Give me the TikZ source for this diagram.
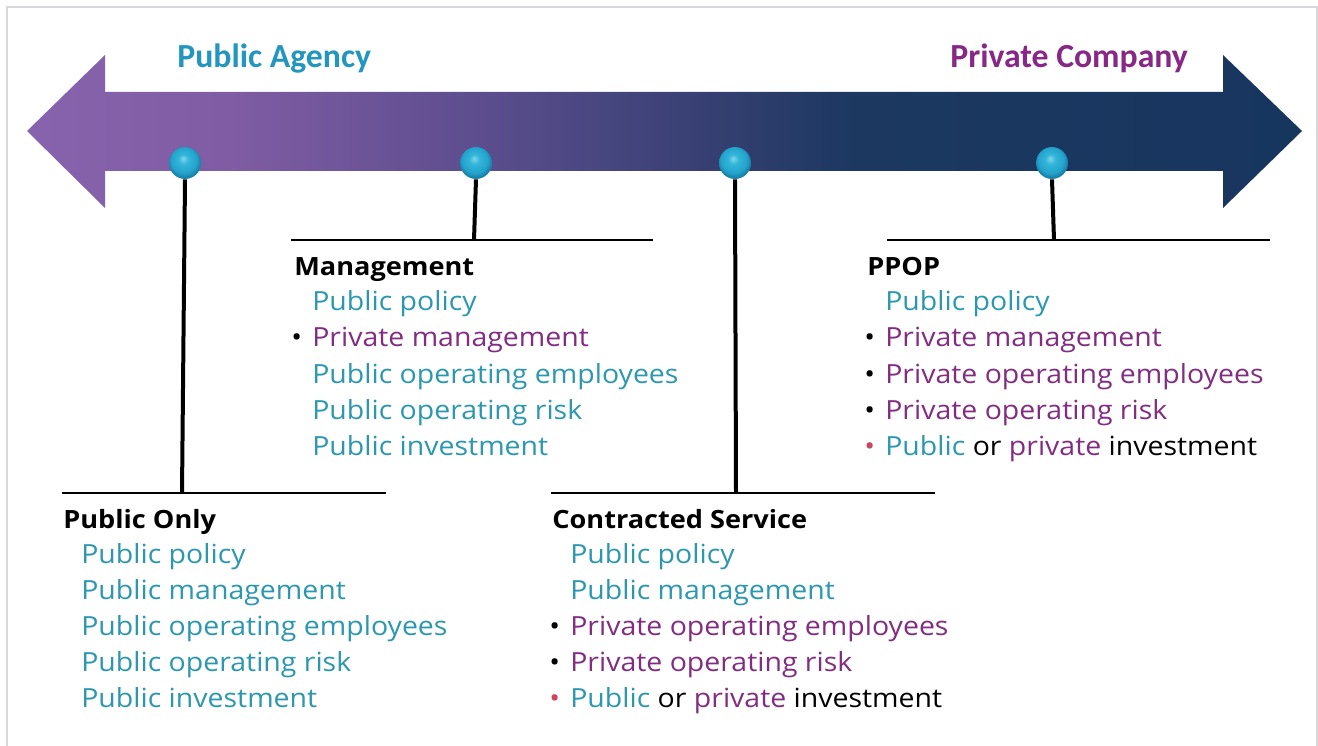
\documentclass[tikz,border=0pt]{standalone}
\usepackage{fontspec}
\setmainfont{Open Sans}
\newfontfamily\bodyfont{Open Sans}[FakeStretch=1.08]
\newfontfamily\titlefont{Carlito}
\usetikzlibrary{calc}

\definecolor{pubteal}{RGB}{43,152,176}
\definecolor{prvpurple}{RGB}{130,45,130}
\definecolor{titleteal}{RGB}{35,150,190}
\definecolor{titlepurple}{RGB}{135,40,135}
\definecolor{bulred}{RGB}{205,70,95}
\definecolor{framegray}{RGB}{215,215,220}

% colour run of the timeline arrow, purple on the left to navy on the right
\pgfdeclarehorizontalshading{timeline}{100bp}{%
  rgb(0bp)=(0.53,0.39,0.68);
  rgb(25bp)=(0.53,0.39,0.68);
  rgb(33bp)=(0.50,0.36,0.64);
  rgb(43.5bp)=(0.35,0.30,0.55);
  rgb(51.4bp)=(0.22,0.25,0.45);
  rgb(57.3bp)=(0.11,0.22,0.38);
  rgb(75bp)=(0.09,0.21,0.37);
  rgb(100bp)=(0.09,0.21,0.37)}

% glossy marker pin
\pgfdeclareradialshading{pinball}{\pgfpoint{-3bp}{7bp}}{%
  rgb(0bp)=(0.50,0.84,0.93);
  rgb(8bp)=(0.20,0.71,0.85);
  rgb(20bp)=(0.14,0.64,0.80);
  rgb(25bp)=(0.10,0.52,0.68);
  rgb(50bp)=(0.10,0.52,0.68)}

\newcommand\pubtxt[1]{\textcolor{pubteal}{#1}}
\newcommand\prvtxt[1]{\textcolor{prvpurple}{#1}}

\begin{document}
\begin{tikzpicture}[x=0.02cm,y=-0.02cm,
  pinmark/.style={circle,minimum size=32*0.02cm,inner sep=0pt,shading=pinball},
  stem/.style={line width=0.08cm,black},
  baseline rule/.style={line width=0.032cm,black},
  heading/.style={anchor=base west,inner sep=0pt,font=\bodyfont\bfseries\fontsize{14.3}{16}\selectfont},
  item/.style={anchor=base west,inner sep=0pt,font=\bodyfont\fontsize{15}{17}\selectfont},
  bul/.style={anchor=base east,inner sep=0pt,xshift=-0.19cm,font=\bodyfont\fontsize{15}{17}\selectfont},
  title/.style={anchor=base west,inner sep=0pt,font=\titlefont\bfseries\fontsize{19.2}{22}\selectfont}]

\useasboundingbox (0,0) rectangle (1318,746);
\fill[white] (0,0) rectangle (1318,746);
% page frame
\draw[framegray,line width=0.03cm] (7,760) -- (7,7) -- (1317,7) -- (1317,760);

% double-headed timeline arrow
\path[shading=timeline]
  (27,131) -- (105,55) -- (105,92) -- (1223,92) -- (1223,55) -- (1302,131)
  -- (1223,208) -- (1223,171) -- (105,171) -- (105,208) -- cycle;

% end labels
\node[title,text=titleteal] (tpub) at (177,68) {Public Agency};
\node[title,text=titlepurple] (tprv) at (950,68) {Private Company};

% pins on the timeline
\node[pinmark] (p1) at (185,163) {};
\node[pinmark] (p2) at (476,163) {};
\node[pinmark] (p3) at (735,163) {};
\node[pinmark] (p4) at (1052,163) {};

% rules under each pin
\coordinate (r1a) at (62,493);  \coordinate (r1b) at (386,493);
\coordinate (r2a) at (291,240); \coordinate (r2b) at (653,240);
\coordinate (r3a) at (551,493); \coordinate (r3b) at (935,493);
\coordinate (r4a) at (887,240); \coordinate (r4b) at (1270,240);
\coordinate (s1) at (182,493);
\coordinate (s2) at (474,240);
\coordinate (s3) at (736,493);
\coordinate (s4) at (1054,240);

\draw[baseline rule] (r1a) -- (r1b);
\draw[baseline rule] (r2a) -- (r2b);
\draw[baseline rule] (r3a) -- (r3b);
\draw[baseline rule] (r4a) -- (r4b);

\draw[stem] (p1.south) -- (s1);
\draw[stem] (p2.south) -- (s2);
\draw[stem] (p3.south) -- (s3);
\draw[stem] (p4.south) -- (s4);

% Public Only
\node[heading] (h1) at (63,528) {Public Only};
\node[item] (a1) at (81,563) {\pubtxt{Public policy}};
\node[item] (a2) at (81,599) {\pubtxt{Public management}};
\node[item] (a3) at (81,635) {\pubtxt{Public operating employees}};
\node[item] (a4) at (81,671) {\pubtxt{Public operating risk}};
\node[item] (a5) at (81,707) {\pubtxt{Public investment}};

% Management
\node[heading] (h2) at (294,276) {Management};
\node[item] (b1) at (312,311) {\pubtxt{Public policy}};
\node[item] (b2) at (312,347) {\prvtxt{Private management}};
\node[item] (b3) at (312,383) {\pubtxt{Public operating employees}};
\node[item] (b4) at (312,419) {\pubtxt{Public operating risk}};
\node[item] (b5) at (312,455) {\pubtxt{Public investment}};
\node[bul] (bb2) at (b2.base west) {•};

% Contracted Service
\node[heading] (h3) at (552,528) {Contracted Service};
\node[item] (c1) at (570,563) {\pubtxt{Public policy}};
\node[item] (c2) at (570,599) {\pubtxt{Public management}};
\node[item] (c3) at (570,635) {\prvtxt{Private operating employees}};
\node[item] (c4) at (570,671) {\prvtxt{Private operating risk}};
\node[item] (c5) at (570,707) {\pubtxt{Public} or \prvtxt{private} investment};
\node[bul] (bc3) at (c3.base west) {•};
\node[bul] (bc4) at (c4.base west) {•};
\node[bul,text=bulred] (bc5) at (c5.base west) {•};

% PPOP
\node[heading] (h4) at (867,276) {PPOP};
\node[item] (d1) at (885,311) {\pubtxt{Public policy}};
\node[item] (d2) at (885,347) {\prvtxt{Private management}};
\node[item] (d3) at (885,383) {\prvtxt{Private operating employees}};
\node[item] (d4) at (885,419) {\prvtxt{Private operating risk}};
\node[item] (d5) at (885,455) {\pubtxt{Public} or \prvtxt{private} investment};
\node[bul] (bd2) at (d2.base west) {•};
\node[bul] (bd3) at (d3.base west) {•};
\node[bul] (bd4) at (d4.base west) {•};
\node[bul,text=bulred] (bd5) at (d5.base west) {•};
\end{tikzpicture}
\end{document}
